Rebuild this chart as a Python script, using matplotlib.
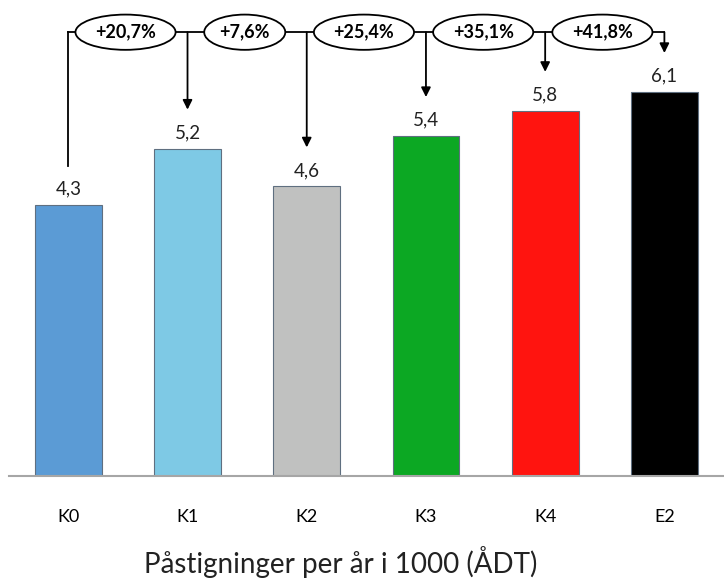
import matplotlib
matplotlib.use("Agg")
import matplotlib.pyplot as plt
from matplotlib.patches import Ellipse

categories = ["K0", "K1", "K2", "K3", "K4", "E2"]
values = [4.3, 5.2, 4.6, 5.4, 5.8, 6.1]
changes = ["+20,7%", "+7,6%", "+25,4%", "+35,1%", "+41,8%"]
colors = ["#5B9BD5", "#7EC9E5", "#C0C1C0", "#0CA823", "#FF140F", "#000000"]
xlabel = "Påstigninger per år i 1000 (ÅDT)"

plt.rcParams["font.family"] = ["Lato", "DejaVu Sans"]

fig = plt.figure(figsize=(7.24, 5.8), dpi=100)
ax = fig.add_axes([0.012, 0.1793, 0.988, 0.814])

x = list(range(len(categories)))
ax.bar(x, values, width=0.56, color=colors, edgecolor="#5f6f80", linewidth=0.8, zorder=2)

for i, v in enumerate(values):
    ax.text(i, v + 0.12, f"{v:.1f}".replace(".", ","), ha="center", va="bottom",
            fontsize=13.5, color="#222222")

ax.set_xlim(-0.5, 5.5)
ax.set_ylim(0, 7.5)
ax.set_xticks(x)
ax.set_xticklabels(categories, fontsize=13)
ax.tick_params(axis="x", length=0, pad=24)
ax.set_yticks([])
for s in ["top", "left", "right"]:
    ax.spines[s].set_visible(False)
ax.spines["bottom"].set_color("#A6A6A6")
ax.spines["bottom"].set_linewidth(1.5)
fig.text(0.471, 0.012, xlabel, ha="center", va="baseline", fontsize=20, color="#222222")

# connector with percentage changes relative to K0
top = 7.05
off = 0.62
ax.plot([0, 0], [values[0] + off, top], color="black", lw=1.3, zorder=3)
ax.plot([0, len(values) - 1], [top, top], color="black", lw=1.3, zorder=3)
for i in range(1, len(values)):
    ax.annotate("", xy=(i, values[i] + off), xytext=(i, top),
                arrowprops=dict(arrowstyle="-|>", color="black", lw=1.3,
                                mutation_scale=14, shrinkA=0, shrinkB=0),
                zorder=3)

for i, lab in enumerate(changes):
    w = 0.68 if len(lab) < 6 else 0.84
    ax.add_patch(Ellipse((i + 0.48, top), w, 0.56, facecolor="white",
                         edgecolor="black", lw=1.3, zorder=4))
    ax.text(i + 0.48, top, lab, ha="center", va="center", fontsize=13,
            fontweight="bold", zorder=5)

fig.savefig("out.png", dpi=100)
